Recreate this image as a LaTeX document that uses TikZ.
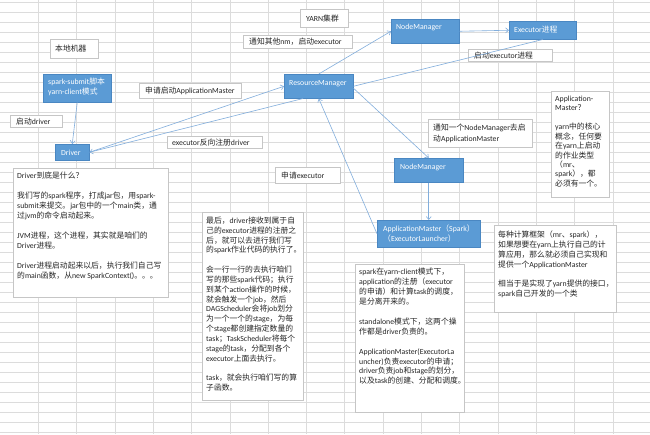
\documentclass[tikz,border=0pt]{standalone}
\usepackage{fontspec}
\setmainfont{Carlito}
\newfontfamily\cjkfont{Noto Sans CJK SC}
\newfontfamily\latinfont{Carlito}
\usetikzlibrary{arrows.meta}
% automatic switch between Latin and CJK fonts
\newXeTeXintercharclass\mycjkclass
\newcount\mycc
\mycc="3000 \loop \XeTeXcharclass\mycc=\mycjkclass \advance\mycc by 1 \ifnum\mycc<"3040 \repeat
\mycc="4E00 \loop \XeTeXcharclass\mycc=\mycjkclass \advance\mycc by 1 \ifnum\mycc<"A000 \repeat
\mycc="FF00 \loop \XeTeXcharclass\mycc=\mycjkclass \advance\mycc by 1 \ifnum\mycc<"FFF0 \repeat
\XeTeXinterchartoks 0 \mycjkclass = {\cjkfont}
\XeTeXinterchartoks 4095 \mycjkclass = {\cjkfont}
\XeTeXinterchartoks \mycjkclass 0 = {\latinfont}
\XeTeXinterchartoks \mycjkclass 4095 = {\latinfont}
\XeTeXinterchartokenstate=1
\definecolor{boxblue}{HTML}{5B9BD5}
\definecolor{boxedge}{HTML}{4A87C2}
\definecolor{linkblue}{HTML}{82AEDC}
\definecolor{gridgray}{HTML}{DCDCDC}
\definecolor{framegray}{HTML}{C6C6C6}
\definecolor{inkgray}{HTML}{262626}
\begin{document}
\begin{tikzpicture}[x=1pt,y=-1pt,
  font=\fontsize{7.8}{10}\selectfont,
  bluebox/.style={draw=boxedge, fill=boxblue, line width=0.5pt, inner sep=0pt, anchor=north west},
  notebox/.style={draw=framegray, fill=white, line width=0.6pt, inner sep=0pt, anchor=north west},
  tagbox/.style={draw=framegray, fill=white, line width=0.6pt, inner sep=0pt, anchor=north west},
  bluetext/.style={text=white, align=left, inner sep=0pt, anchor=north west},
  notetext/.style={text=inkgray, align=left, inner sep=0pt, anchor=north west},
  tagtext/.style={text=inkgray, align=left, inner sep=0pt, anchor=west},
  link/.style={draw=linkblue, line width=0.6pt},
  arr/.style={link, -{Straight Barb[length=3pt,width=5pt]}}
]
\useasboundingbox (0,0) rectangle (650,434);
\fill[white] (0,0) rectangle (650,434);
% spreadsheet grid
\foreach \i in {1,...,16} \draw[gridgray, line width=0.5pt] (\i*38.3,0) -- (\i*38.3,434);
\foreach \j in {0,...,43} \draw[gridgray, line width=0.5pt] (0,\j*10+2.7) -- (650,\j*10+2.7);

% ---- blue boxes ----
\node[bluebox, minimum width=68pt, minimum height=28pt] (ss) at (43,74) {};
\node[bluetext] (sst) at (48,78) {spark-submit脚本\\yarn-client模式};
\node[bluebox, minimum width=34pt, minimum height=16pt] (drv) at (55,144) {};
\node[bluetext] (drvt) at (61,149.5) {Driver};
\node[bluebox, minimum width=69pt, minimum height=24pt] (rm) at (284,74) {};
\node[bluetext] (rmt) at (289,80.5) {ResourceManager};
\node[bluebox, minimum width=68pt, minimum height=24pt] (nma) at (391,19) {};
\node[bluetext] (nmat) at (396,23.5) {NodeManager};
\node[bluebox, minimum width=67pt, minimum height=18pt] (exe) at (509,21) {};
\node[bluetext] (exet) at (514,25.5) {Executor进程};
\node[bluebox, minimum width=69pt, minimum height=24pt] (nmb) at (394,158) {};
\node[bluetext] (nmbt) at (400,163.5) {NodeManager};
\node[bluebox, minimum width=103pt, minimum height=27pt] (am) at (377,220) {};
\node[bluetext] (amt) at (383,224.5) {ApplicationMaster（Spark）\\（ExecutorLauncher）};

% ---- tag boxes ----
\node[tagbox, minimum width=48pt, minimum height=18pt] (yarn) at (300,9) {};
\node[tagtext] (yarnt) at ([xshift=6pt]yarn.west) {YARN集群};
\node[tagbox, minimum width=48pt, minimum height=19pt] (local) at (50,39) {};
\node[tagtext] (localt) at ([xshift=5pt]local.west) {本地机器};
\node[tagbox, minimum width=109pt, minimum height=13pt] (tzqt) at (243,35) {};
\node[tagtext] (tzqtt) at ([xshift=6pt]tzqt.west) {通知其他nm，启动executor};
\node[tagbox, minimum width=102pt, minimum height=15pt] (sqam) at (139,83) {};
\node[tagtext] (sqamt) at ([xshift=6pt]sqam.west) {申请启动ApplicationMaster};
\node[tagbox, minimum width=52pt, minimum height=12pt] (qddrv) at (10,115) {};
\node[tagtext] (qddrvt) at ([xshift=6pt]qddrv.west) {启动driver};
\node[tagbox, minimum width=95pt, minimum height=12pt] (fxzc) at (167,136) {};
\node[tagtext] (fxzct) at ([xshift=5pt]fxzc.west) {executor反向注册driver};
\node[tagbox, minimum width=84pt, minimum height=12pt] (qdexe) at (468,49) {};
\node[tagtext] (qdexet) at ([xshift=6pt]qdexe.west) {启动executor进程};
\node[tagbox, minimum width=104pt, minimum height=28pt] (tzyg) at (428,119) {};
\node[tagtext, font=\fontsize{7.8}{10.4}\selectfont] (tzygt) at ([xshift=5pt]tzyg.west) {通知一个NodeManager去启\\动ApplicationMaster};
\node[tagbox, minimum width=65pt, minimum height=16pt] (sqexe) at (275,167) {};
\node[tagtext] (sqexet) at ([xshift=6pt]sqexe.west) {申请executor};

% ---- note boxes ----
\node[notebox, minimum width=155pt, minimum height=129pt] (dnote) at (13,168) {};
\node[notetext] (dnotet) at (17,172) {Driver到底是什么？\\[10pt]
我们写的spark程序，打成jar包，用spark-\\
submit来提交。jar包中的一个main类，通\\
过jvm的命令启动起来。\\[10pt]
JVM进程，这个进程，其实就是咱们的\\
Driver进程。\\[10pt]
Driver进程启动起来以后，执行我们自己写\\
的main函数，从new SparkContext()。。。};

\node[notebox, minimum width=101pt, minimum height=188pt] (fnote) at (202,212) {};
\node[notetext, font=\fontsize{7.8}{9.9}\selectfont] (fnotet) at (206,216.5) {最后，driver接收到属于自\\
己的executor进程的注册之\\
后，就可以去进行我们写\\
的spark作业代码的执行了。\\[9.5pt]
会一行一行的去执行咱们\\
写的那些spark代码；执行\\
到某个action操作的时候，\\
就会触发一个job，然后\\
DAGScheduler会将job划分\\
为一个一个的stage，为每\\
个stage都创建指定数量的\\
task；TaskScheduler将每个\\
stage的task，分配到各个\\
executor上面去执行。\\[9.5pt]
task，就会执行咱们写的算\\
子函数。};

\node[notebox, minimum width=109pt, minimum height=148pt] (snote) at (355,264) {};
\node[notetext, font=\fontsize{7.8}{9.9}\selectfont] (snotet) at (359,268) {spark在yarn-client模式下，\\
application的注册（executor\\
的申请）和计算task的调度，\\
是分离开来的。\\[10pt]
standalone模式下，这两个操\\
作都是driver负责的。\\[10pt]
ApplicationMaster(ExecutorLa\\
uncher)负责executor的申请；\\
driver负责job和stage的划分，\\
以及task的创建、分配和调度。};

\node[notebox, minimum width=58pt, minimum height=106pt] (amq) at (551,91) {};
\node[notetext, font=\fontsize{7.8}{9.4}\selectfont] (amqt) at (555,95.5) {Application-\\
Master？\\[10pt]
yarn中的核心\\
概念，任何要\\
在yarn上启动\\
的作业类型\\
（mr、\\
spark），都\\
必须有一个。};

\node[notebox, minimum width=122pt, minimum height=87pt] (mnote) at (494,225) {};
\node[notetext, font=\fontsize{7.8}{9.9}\selectfont] (mnotet) at (498,230.5) {每种计算框架（mr、spark），\\
如果想要在yarn上执行自己的计\\
算应用，那么就必须自己实现和\\
提供一个ApplicationMaster\\[10pt]
相当于是实现了yarn提供的接口，\\
spark自己开发的一个类};

% ---- connectors ----
\draw[arr] (ss.south) -- (drv.north);
\draw[arr] (drv.east) -- (rm.west);
\draw[arr] ([xshift=19pt]rm.south west) -- (drv.east);
\draw[arr] (rm.north) -- (nma.west);
\draw[arr] (nma.east) -- (exe.west);
\draw[link] (exe.south) -- (rm.east);
\draw[arr] ([yshift=-2pt]rm.east) -- (nmb.north);
\draw[arr] (nmb.south) -- (am.north);
\draw[arr] (am.west) -- (rm.south);
\end{tikzpicture}
\end{document}
